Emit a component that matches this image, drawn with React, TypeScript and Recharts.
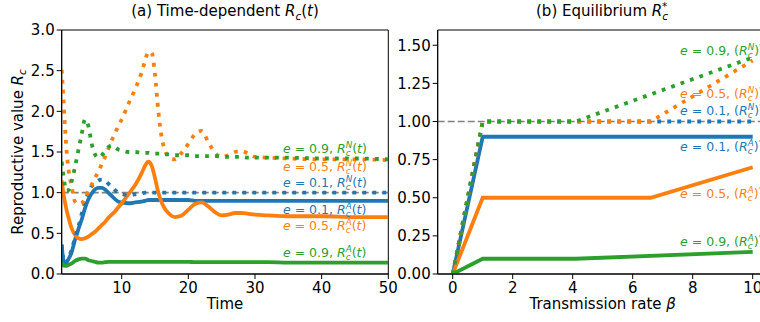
import { LineChart, Line, XAxis, YAxis, ReferenceLine, ReferenceDot, ReferenceArea } from 'recharts';

const FONT = '"DejaVu Sans", sans-serif';
const BLUE = '#1f77b4';
const ORANGE = '#ff7f0e';
const GREEN = '#2ca02c';

// (a) time grid and R_c(t) per efficacy e
const times = [
  1, 1.25, 1.5, 1.75, 2, 2.5, 3, 3.5, 4, 4.5, 5, 5.5, 6, 6.5, 7, 7.5, 8, 8.5, 9, 9.5, 10,
  11, 12, 13, 13.5, 14, 14.5, 15, 15.5, 16, 16.5, 17, 18, 19, 20, 21, 22, 23, 24, 25, 26,
  27, 28, 29, 30, 32, 35, 40, 45, 50,
];
const rA01 = [
  0.36, 0.17, 0.13, 0.15, 0.18, 0.27, 0.42, 0.55, 0.67, 0.81, 0.92, 0.99, 1.04, 1.06, 1.06, 1.04, 1.0, 0.96, 0.92, 0.89, 0.88,
  0.87, 0.88, 0.89, 0.9, 0.91, 0.91, 0.91, 0.91, 0.91, 0.91, 0.91, 0.91, 0.91, 0.91, 0.9, 0.9, 0.9, 0.9, 0.9, 0.9,
  0.9, 0.9, 0.9, 0.9, 0.9, 0.9, 0.9, 0.9, 0.9,
];
const rA05 = [
  1.15, 1.0, 0.88, 0.78, 0.7, 0.56, 0.48, 0.44, 0.43, 0.44, 0.46, 0.49, 0.52, 0.56, 0.6, 0.64, 0.69, 0.73, 0.77, 0.82, 0.87,
  0.98, 1.09, 1.24, 1.33, 1.38, 1.33, 1.18, 1.0, 0.88, 0.8, 0.75, 0.7, 0.72, 0.79, 0.86, 0.88, 0.83, 0.76, 0.72, 0.73,
  0.75, 0.75, 0.74, 0.73, 0.72, 0.71, 0.71, 0.7, 0.7,
];
const rA09 = [
  0.14, 0.11, 0.1, 0.1, 0.11, 0.13, 0.16, 0.18, 0.19, 0.19, 0.17, 0.16, 0.15, 0.14, 0.14, 0.145, 0.15, 0.15, 0.15, 0.15, 0.15,
  0.15, 0.15, 0.15, 0.15, 0.15, 0.15, 0.15, 0.15, 0.15, 0.15, 0.15, 0.15, 0.15, 0.15, 0.145, 0.145, 0.145, 0.145, 0.145, 0.145,
  0.145, 0.145, 0.145, 0.145, 0.145, 0.14, 0.14, 0.14, 0.14,
];
const rN01 = [
  0.36, 0.17, 0.13, 0.15, 0.19, 0.3, 0.45, 0.58, 0.74, 0.88, 1.0, 1.08, 1.12, 1.15, 1.16, 1.15, 1.11, 1.07, 1.03, 1.0, 0.98,
  0.97, 0.98, 0.99, 1.0, 1.0, 1.0, 1.0, 1.0, 1.0, 1.0, 1.0, 1.0, 1.0, 1.0, 1.0, 1.0, 1.0, 1.0, 1.0, 1.0,
  1.0, 1.0, 1.0, 1.0, 1.0, 1.0, 1.0, 1.0, 1.0,
];
const rN05 = [
  2.51, 2.18, 1.8, 1.5, 1.3, 1.07, 0.89, 0.86, 0.87, 0.93, 1.02, 1.1, 1.18, 1.26, 1.35, 1.44, 1.54, 1.64, 1.73, 1.82, 1.9,
  2.09, 2.27, 2.48, 2.62, 2.73, 2.72, 2.45, 2.0, 1.68, 1.52, 1.44, 1.41, 1.49, 1.6, 1.72, 1.76, 1.62, 1.49, 1.44, 1.46,
  1.5, 1.51, 1.48, 1.44, 1.43, 1.42, 1.41, 1.41, 1.4,
];
const rN09 = [
  1.38, 1.22, 1.08, 1.02, 1.03, 1.14, 1.32, 1.52, 1.72, 1.9, 1.82, 1.6, 1.47, 1.43, 1.46, 1.51, 1.56, 1.58, 1.56, 1.53, 1.52,
  1.5, 1.5, 1.49, 1.49, 1.49, 1.48, 1.48, 1.48, 1.48, 1.47, 1.47, 1.46, 1.46, 1.46, 1.45, 1.45, 1.45, 1.45, 1.44, 1.44,
  1.44, 1.44, 1.43, 1.43, 1.43, 1.43, 1.42, 1.42, 1.41,
];

// (b) equilibrium R_c* vs beta: [beta, value]
const eqA01 = [[0, 0], [1, 0.9], [10, 0.9]];
const eqA05 = [[0, 0], [1, 0.5], [6.6, 0.5], [10, 0.7]];
const eqA09 = [[0, 0], [1, 0.1], [4.1, 0.1], [10, 0.145]];
const eqN01 = [[0, 0], [1, 1.0], [10, 1.0]];
const eqN05 = [[0, 0], [1, 1.0], [6.6, 1.0], [10, 1.4]];
const eqN09 = [[0, 0], [1, 1.0], [4.1, 1.0], [10, 1.42]];

const leftXTicks = [10, 20, 30, 40, 50];
const leftYTicks = [0, 0.5, 1, 1.5, 2, 2.5, 3];
const rightXTicks = [0, 2, 4, 6, 8, 10];
const rightYTicks = [0, 0.25, 0.5, 0.75, 1, 1.25, 1.5];

const timeRows = times.map((t, i) => ({
  t,
  a01: rA01[i],
  a05: rA05[i],
  a09: rA09[i],
  n01: rN01[i],
  n05: rN05[i],
  n09: rN09[i],
}));
const toRows = (pts: number[][]) => pts.map(([b, r]) => ({ b, r }));

const tickStyle = { fill: '#000', fontSize: 15, fontFamily: FONT };
const SOLID = 3.8;
const DOTS = '3.8 6.2';

function SeriesText(props: any) {
  const { viewBox, color, e, sup, eq } = props;
  const x = viewBox.x + viewBox.width / 2;
  const y = viewBox.y + viewBox.height / 2 + 4.5;
  return (
    <text x={x} y={y} fill={color} fontSize={12.5} fontFamily={FONT} style={{ whiteSpace: 'pre' }}>
      <tspan fontStyle="italic">e</tspan>
      <tspan>{` = ${e}, `}</tspan>
      {eq ? <tspan>(</tspan> : null}
      <tspan fontStyle="italic">R</tspan>
      <tspan fontStyle="italic" fontSize={8.75} dy={3}>c</tspan>
      <tspan fontStyle="italic" fontSize={8.75} dx={-4.8} dy={-8}>{sup}</tspan>
      {eq ? (
        <>
          <tspan dy={5}>)</tspan>
          <tspan fontSize={8.75} dy={-5}>*</tspan>
        </>
      ) : (
        <>
          <tspan dy={5}>(</tspan>
          <tspan fontStyle="italic">t</tspan>
          <tspan>)</tspan>
        </>
      )}
    </text>
  );
}

function XLabel(props: any) {
  const { viewBox, children } = props;
  return (
    <text x={viewBox.x + viewBox.width / 2} y={viewBox.y + 35} textAnchor="middle" fontSize={15} fontFamily={FONT} fill="#000">
      {children}
    </text>
  );
}

function YLabel(props: any) {
  const { viewBox } = props;
  const x = viewBox.x + 22.5;
  const y = viewBox.y + viewBox.height / 2;
  return (
    <text x={x} y={y} transform={`rotate(-90, ${x}, ${y})`} textAnchor="middle" fontSize={15} fontFamily={FONT} fill="#000">
      Reproductive value <tspan fontStyle="italic">R</tspan>
      <tspan fontStyle="italic" fontSize={10.5} dy={3.5}>c</tspan>
    </text>
  );
}

const frame = { stroke: '#000', strokeWidth: 1 };

export default function App() {
  return (
    <div style={{ position: 'absolute', left: 0, top: 0, width: 760, height: 322, overflow: 'hidden', background: '#fff' }}>
      <div style={{ position: 'absolute', left: 0, top: 0 }}>
        <LineChart width={400} height={322} data={timeRows} margin={{ top: 30, right: 11.7, bottom: 0, left: 0 }}>
          <XAxis
            dataKey="t"
            type="number"
            domain={[1, 50]}
            ticks={leftXTicks}
            allowDataOverflow
            height={48}
            tickSize={5}
            tickMargin={3}
            tick={tickStyle}
            axisLine={frame}
            tickLine={frame}
            label={<XLabel>Time</XLabel>}
          />
          <YAxis
            type="number"
            domain={[0, 3]}
            ticks={leftYTicks}
            allowDataOverflow
            width={61.7}
            tickSize={5}
            tickMargin={2}
            tick={tickStyle}
            tickFormatter={(v: number) => v.toFixed(1)}
            axisLine={frame}
            tickLine={frame}
            label={<YLabel />}
          />
          <ReferenceArea x1={1} x2={50} y1={0} y2={3} fill="none" stroke="#000" strokeWidth={1} />
          <ReferenceLine y={1} stroke="#808080" strokeWidth={1.6} strokeDasharray="7 3" />
          <Line dataKey="a01" type="monotone" stroke={BLUE} strokeWidth={SOLID} dot={false} isAnimationActive={false} />
          <Line dataKey="a05" type="monotone" stroke={ORANGE} strokeWidth={SOLID} dot={false} isAnimationActive={false} />
          <Line dataKey="a09" type="monotone" stroke={GREEN} strokeWidth={SOLID} dot={false} isAnimationActive={false} />
          <Line dataKey="n01" type="monotone" stroke={BLUE} strokeWidth={SOLID} strokeDasharray={DOTS} dot={false} isAnimationActive={false} />
          <Line dataKey="n05" type="monotone" stroke={ORANGE} strokeWidth={SOLID} strokeDasharray={DOTS} dot={false} isAnimationActive={false} />
          <Line dataKey="n09" type="monotone" stroke={GREEN} strokeWidth={SOLID} strokeDasharray={DOTS} dot={false} isAnimationActive={false} />
          <ReferenceDot x={34.2} y={1.549} r={0} fill="none" stroke="none" label={<SeriesText color={GREEN} e="0.9" sup="N" />} />
          <ReferenceDot x={34.2} y={1.316} r={0} fill="none" stroke="none" label={<SeriesText color={ORANGE} e="0.5" sup="N" />} />
          <ReferenceDot x={34.2} y={1.119} r={0} fill="none" stroke="none" label={<SeriesText color={BLUE} e="0.1" sup="N" />} />
          <ReferenceDot x={34.2} y={0.787} r={0} fill="none" stroke="none" label={<SeriesText color={BLUE} e="0.1" sup="A" />} />
          <ReferenceDot x={34.2} y={0.602} r={0} fill="none" stroke="none" label={<SeriesText color={ORANGE} e="0.5" sup="A" />} />
          <ReferenceDot x={34.2} y={0.27} r={0} fill="none" stroke="none" label={<SeriesText color={GREEN} e="0.9" sup="A" />} />
        </LineChart>
      </div>

      <div style={{ position: 'absolute', left: 380, top: 0 }}>
        <LineChart width={400} height={322} margin={{ top: 30, right: 12.3, bottom: 0, left: 0 }}>
          <XAxis
            dataKey="b"
            type="number"
            domain={[-0.5, 10.5]}
            ticks={rightXTicks}
            allowDataOverflow
            height={48}
            tickSize={5}
            tickMargin={3}
            tick={tickStyle}
            axisLine={frame}
            tickLine={frame}
            label={
              <XLabel>
                Transmission rate <tspan fontStyle="italic">β</tspan>
              </XLabel>
            }
          />
          <YAxis
            type="number"
            domain={[0, 1.6]}
            ticks={rightYTicks}
            allowDataOverflow
            width={57.7}
            tickSize={5}
            tickMargin={2}
            tick={tickStyle}
            tickFormatter={(v: number) => v.toFixed(2)}
            axisLine={frame}
            tickLine={frame}
          />
          <ReferenceArea x1={-0.5} x2={10.5} y1={0} y2={1.6} fill="none" stroke="#000" strokeWidth={1} />
          <ReferenceLine y={1} stroke="#808080" strokeWidth={1.6} strokeDasharray="7 3" />
          <Line data={toRows(eqA01)} dataKey="r" stroke={BLUE} strokeWidth={SOLID} dot={false} isAnimationActive={false} />
          <Line data={toRows(eqA05)} dataKey="r" stroke={ORANGE} strokeWidth={SOLID} dot={false} isAnimationActive={false} />
          <Line data={toRows(eqA09)} dataKey="r" stroke={GREEN} strokeWidth={SOLID} dot={false} isAnimationActive={false} />
          <Line data={toRows(eqN01)} dataKey="r" stroke={BLUE} strokeWidth={SOLID} strokeDasharray={DOTS} dot={false} isAnimationActive={false} />
          <Line data={toRows(eqN05)} dataKey="r" stroke={ORANGE} strokeWidth={SOLID} strokeDasharray={DOTS} dot={false} isAnimationActive={false} />
          <Line data={toRows(eqN09)} dataKey="r" stroke={GREEN} strokeWidth={SOLID} strokeDasharray={DOTS} dot={false} isAnimationActive={false} />
          <ReferenceDot x={7.58} y={1.467} r={0} fill="none" stroke="none" label={<SeriesText color={GREEN} e="0.9" sup="N" eq />} />
          <ReferenceDot x={7.58} y={1.183} r={0} fill="none" stroke="none" label={<SeriesText color={ORANGE} e="0.5" sup="N" eq />} />
          <ReferenceDot x={7.58} y={1.074} r={0} fill="none" stroke="none" label={<SeriesText color={BLUE} e="0.1" sup="N" eq />} />
          <ReferenceDot x={7.58} y={0.834} r={0} fill="none" stroke="none" label={<SeriesText color={BLUE} e="0.1" sup="A" eq />} />
          <ReferenceDot x={7.58} y={0.528} r={0} fill="none" stroke="none" label={<SeriesText color={ORANGE} e="0.5" sup="A" eq />} />
          <ReferenceDot x={7.58} y={0.212} r={0} fill="none" stroke="none" label={<SeriesText color={GREEN} e="0.9" sup="A" eq />} />
        </LineChart>
      </div>

      <svg width={760} height={322} style={{ position: 'absolute', left: 0, top: 0, pointerEvents: 'none' }}>
        <text x={225} y={16} textAnchor="middle" fontSize={15} fontFamily={FONT} fill="#000" style={{ whiteSpace: 'pre' }}>
          (a) Time-dependent <tspan fontStyle="italic">R</tspan>
          <tspan fontStyle="italic" fontSize={10.5} dy={3.5}>c</tspan>
          <tspan dy={-3.5}>(</tspan>
          <tspan fontStyle="italic">t</tspan>
          <tspan>)</tspan>
        </text>
        <text x={602} y={16} textAnchor="middle" fontSize={15} fontFamily={FONT} fill="#000" style={{ whiteSpace: 'pre' }}>
          (b) Equilibrium <tspan fontStyle="italic">R</tspan>
          <tspan fontStyle="italic" fontSize={10.5} dy={3.5}>c</tspan>
          <tspan fontSize={10.5} dx={-6} dy={-10}>*</tspan>
        </text>
      </svg>
    </div>
  );
}
